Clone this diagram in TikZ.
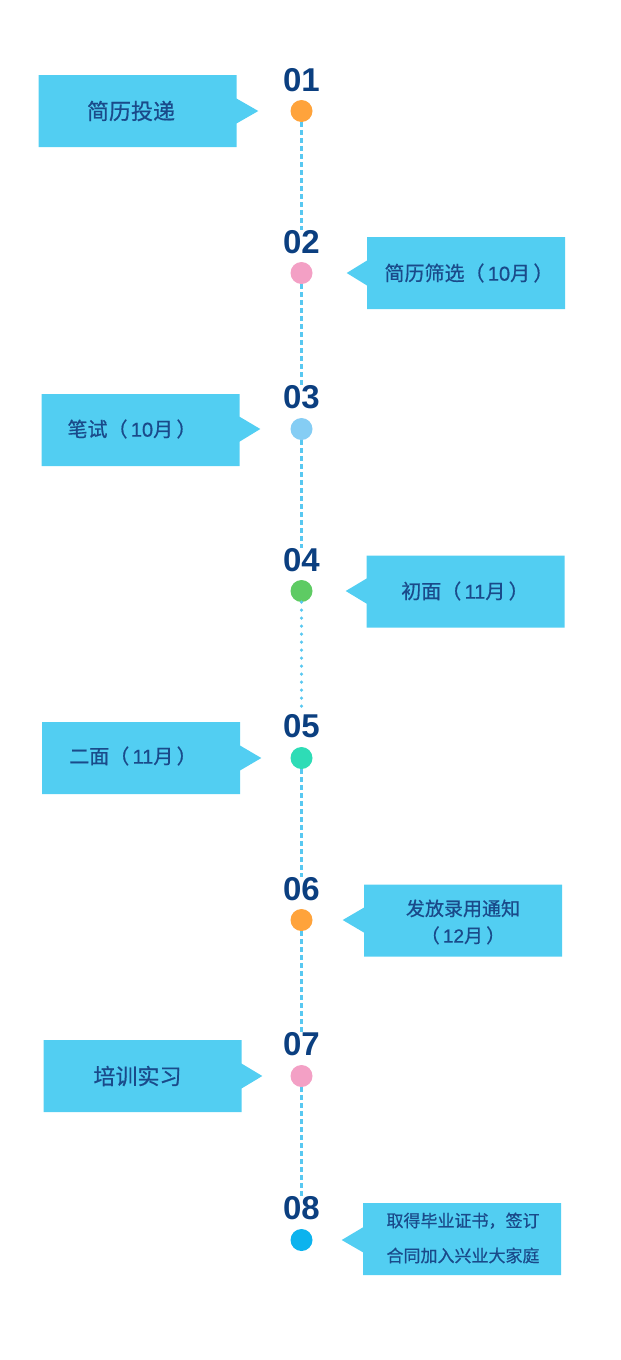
\documentclass[tikz,border=0pt]{standalone}
\usepackage{fontspec}
\newfontfamily\cjk[FakeBold=0.6]{Noto Sans CJK SC}
\newfontfamily\numfont{Liberation Sans}
\newfontfamily\digfont[FakeBold=0.6]{Liberation Sans}
\usetikzlibrary{shapes.callouts}
\usetikzlibrary{calc}
\definecolor{boxblue}{HTML}{52CEF2}
\definecolor{numblue}{HTML}{0B3F80}
\definecolor{txtblue}{HTML}{1A4A8A}
\definecolor{linkblue}{HTML}{58C8F1}
\definecolor{dotorange}{HTML}{FFA33B}
\definecolor{dotpink}{HTML}{F3A0C5}
\definecolor{dotsky}{HTML}{85CDF4}
\definecolor{dotgreen}{HTML}{5ECB63}
\definecolor{dotteal}{HTML}{2EDCB6}
\definecolor{dotblue}{HTML}{0CB3EE}

\begin{document}
\begin{tikzpicture}[x=1pt, y=-1pt,
	dot/.style={circle, minimum size=22pt, inner sep=0pt},
	num/.style={font=\numfont\bfseries\fontsize{33}{33}\selectfont, text=numblue, inner sep=0pt},
	pbox/.style={rectangle callout, fill=boxblue, minimum width=198pt, minimum height=72pt, callout pointer width=25pt, inner sep=0pt},
	lbl/.style={text=txtblue, align=center, inner sep=0pt},
	link/.style={linkblue, line width=2.5pt, dash pattern=on 5pt off 3pt}]
		\useasboundingbox (0,0) rectangle (621,1360);
		
		% time line
		\node[dot, fill=dotorange] (c1) at (301.5,111) {};
		\node[dot, fill=dotpink] (c2) at (301.5,273) {};
		\node[dot, fill=dotsky] (c3) at (301.5,429) {};
		\node[dot, fill=dotgreen] (c4) at (301.5,591) {};
		\node[dot, fill=dotteal] (c5) at (301.5,758) {};
		\node[dot, fill=dotorange] (c6) at (301.5,920) {};
		\node[dot, fill=dotpink] (c7) at (301.5,1076) {};
		\node[dot, fill=dotblue] (c8) at (301.5,1240) {};
		
		\node[num] (n1) at ($(c1) + (0,-31)$) {01};
		\node[num] (n2) at ($(c2) + (0,-31)$) {02};
		\node[num] (n3) at ($(c3) + (0,-32)$) {03};
		\node[num] (n4) at ($(c4) + (0,-31)$) {04};
		\node[num] (n5) at ($(c5) + (0,-32)$) {05};
		\node[num] (n6) at ($(c6) + (0,-31)$) {06};
		\node[num] (n7) at ($(c7) + (0,-32)$) {07};
		\node[num] (n8) at ($(c8) + (0,-32)$) {08};
		
		\draw[link] (c1) -- (n2.north);
		\draw[link] (c2) -- (n3.north);
		\draw[link] (c3) -- (n4.north);
		\draw[linkblue, line width=3.5pt, line cap=round, dash pattern=on 0pt off 8pt] (c4) -- (n5.north);
		\draw[link] (c5) -- (n6.north);
		\draw[link] (c6) -- (n7.north);
		\draw[link] (c7) -- (n8.north);
		
		% boxes
		\node[pbox, callout absolute pointer={($(c1.west) + (-32,0)$)}] (b1) at (137.5,111) {};
		\node[pbox, callout absolute pointer={($(c2.east) + (34,0)$)}] (b2) at (466,273) {};
		\node[pbox, callout absolute pointer={($(c3.west) + (-30,0)$)}] (b3) at (140.5,430) {};
		\node[pbox, callout absolute pointer={($(c4.east) + (33,0)$)}] (b4) at (465.5,591.5) {};
		\node[pbox, callout absolute pointer={($(c5.west) + (-29,0)$)}] (b5) at (141,758) {};
		\node[pbox, callout absolute pointer={($(c6.east) + (30,0)$)}] (b6) at (463,920.5) {};
		\node[pbox, callout absolute pointer={($(c7.west) + (-28,0)$)}] (b7) at (142.5,1076) {};
		\node[pbox, callout absolute pointer={($(c8.east) + (29,0)$)}] (b8) at (462,1239) {};
		
		\node[lbl, font=\cjk\fontsize{22}{22}\selectfont] (t1) at (131,111) {简历投递};
		\node[lbl, font=\cjk\fontsize{20}{20}\selectfont] (t2) at (469,273) {简历筛选（\,{\digfont 10}月\,）};
		\node[lbl, font=\cjk\fontsize{20}{20}\selectfont] (t3) at (132,429) {笔试（\,{\digfont 10}月\,）};
		\node[lbl, font=\cjk\fontsize{20}{20}\selectfont] (t4) at (465,591) {初面（\,{\digfont 11}月\,）};
		\node[lbl, font=\cjk\fontsize{20}{20}\selectfont] (t5) at (133,756) {二面（\,{\digfont 11}月\,）};
		\node[lbl, font=\cjk\fontsize{19}{27}\selectfont] (t6) at (463,922) {发放录用通知\\（\,{\digfont 12}月\,）};
		\node[lbl, font=\cjk\fontsize{22}{22}\selectfont] (t7) at (137.5,1076) {培训实习};
		\node[lbl, font=\cjk\fontsize{17}{35}\selectfont] (t8) at (463,1238) {取得毕业证书，签订\\合同加入兴业大家庭};
\end{tikzpicture}
\end{document}
